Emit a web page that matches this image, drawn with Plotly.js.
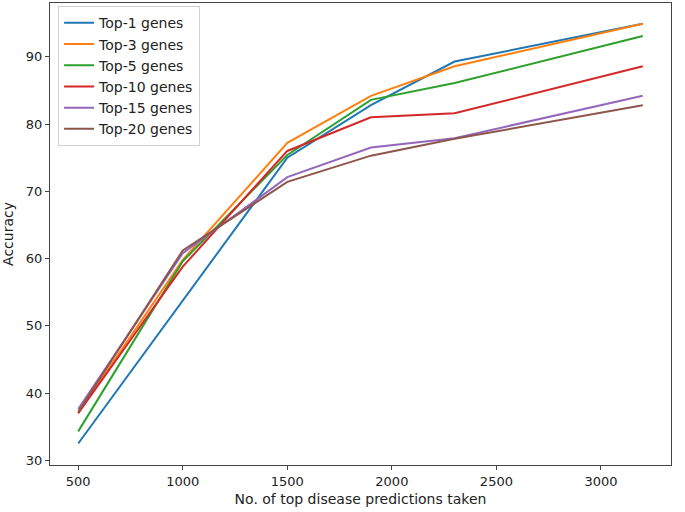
<!DOCTYPE html>
<html>
<head>
<meta charset="utf-8">
<script src="https://cdn.plot.ly/plotly-3.0.1.min.js"></script>
<style>html,body{margin:0;padding:0;background:#fff;}#chart{width:685px;height:512px;}</style>
</head>
<body>
<div id="chart"></div>
<script>
const predictions = [500, 1000, 1500, 1900, 2300, 3200];
const seriesNames = ["Top-1 genes", "Top-3 genes", "Top-5 genes", "Top-10 genes", "Top-15 genes", "Top-20 genes"];
const top1 = [32.5, 53.7, 75.0, 82.8, 89.3, 94.9];
const top3 = [37.0, 59.8, 77.2, 84.2, 88.6, 94.9];
const top5 = [34.3, 59.6, 75.4, 83.6, 86.1, 93.1];
const top10 = [37.0, 58.8, 76.0, 81.0, 81.6, 88.6];
const top15 = [37.6, 60.8, 72.1, 76.5, 77.9, 84.2];
const top20 = [37.2, 61.2, 71.4, 75.3, 77.8, 82.8];
const colors = ["#1f77b4", "#ff7f0e", "#2ca02c", "#d62728", "#9467bd", "#8c564b"];

const allSeries = [top1, top3, top5, top10, top15, top20];
const traces = allSeries.map((vals, i) => ({
  x: predictions,
  y: vals,
  name: seriesNames[i],
  type: "scatter",
  mode: "lines",
  line: {color: colors[i], width: 2}
}));

const fontFam = "DejaVu Sans, sans-serif";
const layout = {
  width: 685,
  height: 512,
  margin: {l: 50, r: 14, t: 3, b: 47},
  paper_bgcolor: "#ffffff",
  plot_bgcolor: "#ffffff",
  font: {family: fontFam, size: 13, color: "#222"},
  showlegend: true,
  legend: {
    x: 0.013, y: 0.993, xanchor: "left", yanchor: "top",
    bgcolor: "rgba(255,255,255,0.9)", bordercolor: "#d0d0d0", borderwidth: 1,
    font: {family: fontFam, size: 14, color: "#222"}
  },
  xaxis: {
    range: [365, 3335],
    tickvals: [500, 1000, 1500, 2000, 2500, 3000],
    showgrid: false, zeroline: false,
    showline: true, mirror: true, linecolor: "#444", linewidth: 1,
    ticks: "outside", ticklen: 4, tickcolor: "#444", tickwidth: 1,
    tickfont: {family: fontFam, size: 13, color: "#222"},
    title: {text: "No. of top disease predictions taken", font: {family: fontFam, size: 14, color: "#222"}, standoff: 6}
  },
  yaxis: {
    range: [29.3, 98.0],
    tickvals: [30, 40, 50, 60, 70, 80, 90],
    showgrid: false, zeroline: false,
    showline: true, mirror: true, linecolor: "#444", linewidth: 1,
    ticks: "outside", ticklen: 4, tickcolor: "#444", tickwidth: 1,
    tickfont: {family: fontFam, size: 13, color: "#222"},
    title: {text: "Accuracy", font: {family: fontFam, size: 14, color: "#222"}, standoff: 8}
  }
};

Plotly.newPlot("chart", traces, layout, {displayModeBar: false, staticPlot: true});
</script>
</body>
</html>
